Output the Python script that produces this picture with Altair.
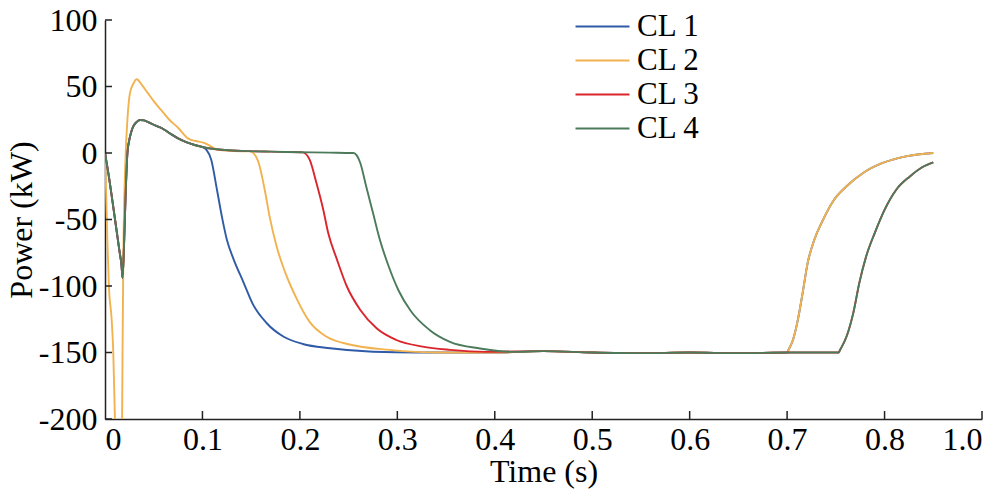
import altair as alt
import pandas as pd

# ---- data ----
series_names = ["CL 1", "CL 2", "CL 3", "CL 4"]
series_colors = ["#2F5BA6", "#F2B24F", "#DA252D", "#4B7B5B"]

# shared start (CL 1, CL 3, CL 4 overlap)
early_t = [0, 0.0034, 0.0103, 0.0147, 0.017, 0.018, 0.0195, 0.021, 0.023, 0.025, 0.027, 0.029,
           0.032, 0.036, 0.040, 0.045, 0.052, 0.058, 0.066, 0.075, 0.084, 0.092, 0.100]
early_p = [0, -15, -50, -73, -85, -94, -70, -35, 0, 10, 16, 20,
           23, 24.8, 24.5, 23, 20.5, 18.8, 15, 11, 8, 6, 4.5]
plateau_t = [0.110, 0.120, 0.140, 0.170, 0.200, 0.230, 0.255]
plateau_p = [3.2, 2.4, 1.6, 1.0, 0.6, 0.3, 0.0]

# CL 2 start
cl2_early_t = [0, 0.001, 0.0024, 0.004, 0.0068, 0.0085, 0.0102, 0.0135, 0.0172, 0.018, 0.0188,
               0.021, 0.023, 0.0256, 0.029, 0.0325, 0.038, 0.044, 0.051, 0.058, 0.066, 0.075,
               0.085, 0.093, 0.100, 0.105, 0.110, 0.115, 0.125, 0.140, 0.149]
cl2_early_p = [0, -25, -65, -100, -125, -150, -200, -260, -230, -150, -80,
               -5, 25, 45, 52, 55.5, 51, 45, 38, 32, 25, 19,
               11, 9, 8, 6.5, 4.5, 2.5, 1.8, 1.3, 1.2]

# drops
cl1_drop_t = [0.104, 0.109, 0.115, 0.120, 0.125, 0.132, 0.142, 0.152, 0.166, 0.183, 0.203, 0.231, 0.275, 0.320]
cl1_drop_p = [2.5, -5, -28, -48, -65, -80, -97, -114, -128, -138, -143.6, -146.8, -149.4, -150]
cl2_drop_t = [0.157, 0.164, 0.169, 0.176, 0.185, 0.197, 0.210, 0.227, 0.251, 0.292, 0.344]
cl2_drop_p = [-6, -28, -48, -70, -90, -110, -127, -138, -144, -148, -150]
cl3_drop_t = [0.203, 0.210, 0.217, 0.224, 0.229, 0.238, 0.248, 0.262, 0.279, 0.299, 0.326, 0.354, 0.390]
cl3_drop_p = [0.5, -5, -22.6, -42.7, -60, -80, -100, -118, -132, -140.6, -145.6, -148, -149.5]
cl4_drop_t = [0.262, 0.268, 0.275, 0.282, 0.291, 0.301, 0.314, 0.333, 0.354, 0.385, 0.420]
cl4_drop_p = [-7.5, -25, -45, -65, -85, -103, -119, -133, -142, -147, -149.5]

# flat section
flat_a_t = [0.40, 0.45, 0.50, 0.55, 0.60, 0.65, 0.700]
flat_a_p = [-150, -149, -150, -150.5, -150, -150.5, -150]
flat_b_t = [0.45, 0.50, 0.55, 0.60, 0.65, 0.70, 0.753]
flat_b_p = [-149, -150, -150.5, -150, -150.5, -150, -150]

# recoveries
rise_a_t = [0.701, 0.706, 0.711, 0.716, 0.721, 0.728, 0.737, 0.747, 0.761, 0.778, 0.798, 0.822, 0.850]
rise_a_p = [-148.6, -140.6, -125.5, -105, -83, -65, -50, -36.4, -25, -15, -7.5, -2.5, 0]
rise_b_t = [0.754, 0.761, 0.768, 0.774, 0.781, 0.790, 0.800, 0.812, 0.826, 0.839, 0.850]
rise_b_p = [-148.6, -138, -120, -98, -78, -60, -42.7, -27.6, -17.6, -10.5, -7]

x_ticks = [0.1, 0.2, 0.3, 0.4, 0.5, 0.6, 0.7, 0.8, 0.9]
x_labels_at = [0, 0.1, 0.2, 0.3, 0.4, 0.5, 0.6, 0.7, 0.8, 0.9]
y_ticks = [-200, -150, -100, -50, 0, 50, 100]


def seg(name, *parts):
    ts, ps = [], []
    for t, p in parts:
        ts += t
        ps += p
    return pd.DataFrame({"series": name, "t": ts, "p": ps})


cut3 = [i for i, v in enumerate(early_t + plateau_t) if v <= 0.200]
cl3_t_start = [(early_t + plateau_t)[i] for i in cut3]
cl3_p_start = [(early_p + plateau_p)[i] for i in cut3]

df = pd.concat([
    seg("CL 1", (early_t, early_p), (cl1_drop_t, cl1_drop_p), (flat_a_t, flat_a_p), (rise_a_t, rise_a_p)),
    seg("CL 2", (cl2_early_t, cl2_early_p), (cl2_drop_t, cl2_drop_p), (flat_a_t, flat_a_p), (rise_a_t, rise_a_p)),
    seg("CL 3", (cl3_t_start, cl3_p_start), (cl3_drop_t, cl3_drop_p), (flat_b_t, flat_b_p), (rise_b_t, rise_b_p)),
    seg("CL 4", (early_t, early_p), (plateau_t, plateau_p), (cl4_drop_t, cl4_drop_p), (flat_b_t, flat_b_p), (rise_b_t, rise_b_p)),
], ignore_index=True)
df["order"] = range(len(df))

FONT = "Liberation Serif"
FS = 32
xscale = alt.Scale(domain=[0, 0.9], nice=False, zero=False)
yscale = alt.Scale(domain=[-200, 100], nice=False)

lines = alt.Chart(df).mark_line(strokeWidth=1.9, clip=True, interpolate="monotone").encode(
    x=alt.X("t:Q", scale=xscale,
            axis=alt.Axis(title="Time (s)", values=x_labels_at, ticks=False, grid=False,
                          labelFont=FONT, titleFont=FONT,
                          labelExpr="datum.value == 0.9 ? '1.0' : '' + datum.value",
                          labelPadding=5, titlePadding=1)),
    y=alt.Y("p:Q", scale=yscale,
            axis=alt.Axis(title="Power (kW)", values=y_ticks, ticks=False, grid=False,
                          labelFont=FONT, titleFont=FONT,
                          labelExpr="'' + datum.value", labelPadding=8, titlePadding=0)),
    color=alt.Color("series:N",
                    scale=alt.Scale(domain=series_names, range=series_colors),
                    legend=alt.Legend(title=None, orient="none", legendX=482, legendY=-9,
                                      symbolType="M-4,0H4", symbolSize=182, symbolStrokeWidth=2,
                                      labelFont=FONT, labelFontSize=31, labelColor="black",
                                      labelOffset=19, rowPadding=2, padding=0)),
    order="order:Q",
)

xt = alt.Chart(pd.DataFrame({"v": x_ticks})).mark_rule(color="#222", strokeWidth=1.5).encode(
    x=alt.X("v:Q", scale=xscale), y=alt.value(399), y2=alt.value(391))
yt = alt.Chart(pd.DataFrame({"v": y_ticks})).mark_rule(color="#222", strokeWidth=1.5).encode(
    y=alt.Y("v:Q", scale=yscale), x=alt.value(0), x2=alt.value(7))

chart = alt.layer(lines, xt, yt).properties(
    width=877, height=399,
    autosize=alt.AutoSizeParams(type="none"),
    padding={"left": 97, "top": 12, "right": 13, "bottom": 71},
    background="white",
).configure(font=FONT).configure_view(stroke=None).configure_axis(
    labelFont=FONT, labelFontSize=FS, labelColor="black",
    titleFont=FONT, titleFontSize=FS, titleColor="black", titleFontWeight="normal",
    domainColor="#222", domainWidth=1.5,
).configure_legend(labelFont=FONT)

chart.save("out.html", embed_options={"renderer": "svg", "actions": False})
